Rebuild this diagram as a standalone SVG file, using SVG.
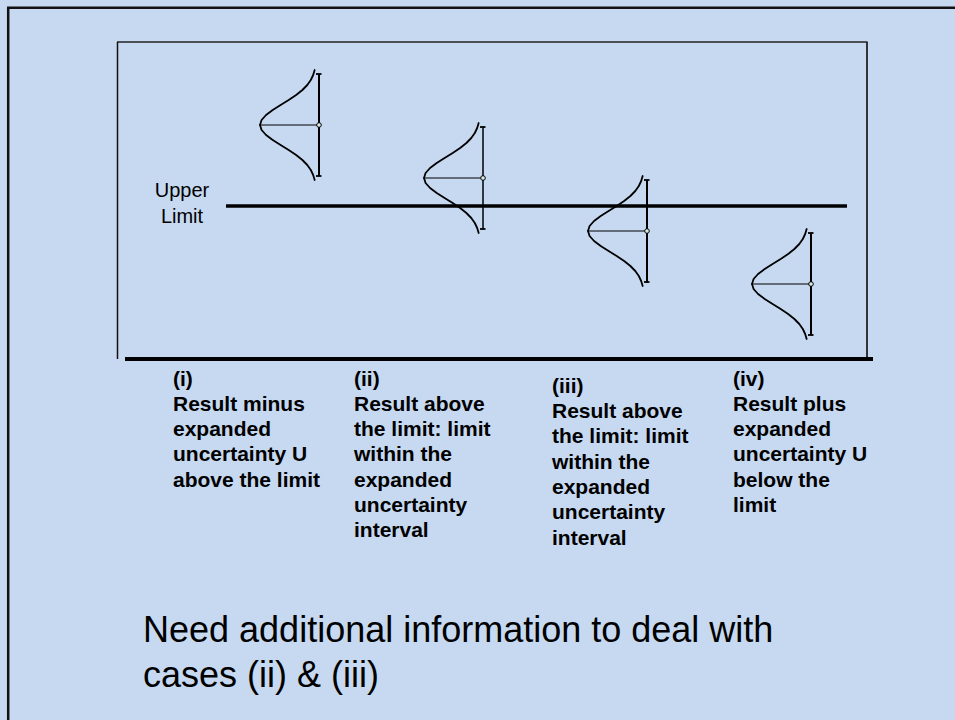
<svg xmlns="http://www.w3.org/2000/svg" width="955" height="720" viewBox="0 0 955 720">
<style>
.lbl{font-family:"Liberation Sans",Arial,sans-serif;font-size:21px;font-weight:bold;fill:#000}
.ul{font-family:"Liberation Sans",Arial,sans-serif;font-size:20px;fill:#000}
.main{font-family:"Liberation Sans",Arial,sans-serif;font-size:36px;fill:#000}
.curve{fill:none;stroke:#000;stroke-width:1.8;stroke-linejoin:round;stroke-linecap:round}
.bar{stroke:#000;stroke-width:2}
.tick{stroke:#000;stroke-width:1.8}
.mid{stroke:#000;stroke-width:1}
.dot{fill:#dcecE4;stroke:#000;stroke-width:1}
</style>
<defs>
<g id="bell">
<polyline class="curve" points="-4.33,-55 -5.82,-50 -8.19,-45 -11.71,-40 -16.59,-35 -22.87,-30 -30.31,-25 -38.4,-20 -46.28,-15 -52.94,-10 -57.42,-5 -59,0 -57.42,5 -52.94,10 -46.28,15 -38.4,20 -30.31,25 -22.87,30 -16.59,35 -11.71,40 -8.19,45 -5.82,50 -4.33,55"/>
<line class="tick" x1="-3" y1="-51" x2="2.5" y2="-51"/>
<line class="tick" x1="-3" y1="51" x2="2.5" y2="51"/>
<line class="mid" x1="-60" y1="0" x2="0" y2="0"/>
</g>
</defs>
<rect x="0" y="0" width="955" height="720" fill="#C6D9F1"/>
<g id="frame">
<line x1="8.2" y1="7.8" x2="8.2" y2="720" stroke="#111" stroke-width="2.5"/>
<line x1="7" y1="7.8" x2="955" y2="7.8" stroke="#111" stroke-width="2.5"/>
</g>
<g id="plot-box">
<line x1="117" y1="42" x2="867.5" y2="42" stroke="#222" stroke-width="1.5"/>
<line x1="117.5" y1="42" x2="117.5" y2="359" stroke="#111" stroke-width="1.5"/>
<line x1="867" y1="42" x2="867" y2="357" stroke="#222" stroke-width="1.8"/>
<line x1="125" y1="359" x2="873" y2="359" stroke="#000" stroke-width="4"/>
</g>
<g id="upper-limit">
<line x1="226" y1="206" x2="847" y2="206" stroke="#000" stroke-width="3.3"/>
<text class="ul" x="182" y="197" text-anchor="middle">Upper</text>
<text class="ul" x="182" y="223" text-anchor="middle">Limit</text>
</g>
<g id="case1-curve" transform="translate(319,125)">
<use href="#bell"/>
<line class="bar" x1="0" y1="-51" x2="0" y2="51"/>
<circle class="dot" cx="0" cy="0" r="2.3"/>
</g>
<g id="case2-curve" transform="translate(483,178)">
<use href="#bell"/>
<line class="bar" x1="0" y1="-51" x2="0" y2="51" style="stroke-width:1.5"/>
<circle class="dot" cx="0" cy="0" r="2.3"/>
</g>
<g id="case3-curve" transform="translate(647,231)">
<use href="#bell"/>
<line class="bar" x1="0" y1="-51" x2="0" y2="52"/>
<circle class="dot" cx="0" cy="0" r="2.3"/>
</g>
<g id="case4-curve" transform="translate(811,284)">
<use href="#bell"/>
<line class="bar" x1="0" y1="-51" x2="0" y2="51"/>
<circle class="dot" cx="0" cy="0" r="2.3"/>
</g>
<g id="case1-label">
<text class="lbl" x="173" y="385.5">(i)</text>
<text class="lbl" x="173" y="410.8">Result minus</text>
<text class="lbl" x="173" y="436.1">expanded</text>
<text class="lbl" x="173" y="461.4">uncertainty U</text>
<text class="lbl" x="173" y="486.7">above the limit</text>
</g>
<g id="case2-label">
<text class="lbl" x="354" y="385.5">(ii)</text>
<text class="lbl" x="354" y="410.8">Result above</text>
<text class="lbl" x="354" y="436.1">the limit: limit</text>
<text class="lbl" x="354" y="461.4">within the</text>
<text class="lbl" x="354" y="486.7">expanded</text>
<text class="lbl" x="354" y="512">uncertainty</text>
<text class="lbl" x="354" y="537.3">interval</text>
</g>
<g id="case3-label">
<text class="lbl" x="552" y="392.8">(iii)</text>
<text class="lbl" x="552" y="418.1">Result above</text>
<text class="lbl" x="552" y="443.4">the limit: limit</text>
<text class="lbl" x="552" y="468.7">within the</text>
<text class="lbl" x="552" y="494">expanded</text>
<text class="lbl" x="552" y="519.3">uncertainty</text>
<text class="lbl" x="552" y="544.6">interval</text>
</g>
<g id="case4-label">
<text class="lbl" x="733" y="385.5">(iv)</text>
<text class="lbl" x="733" y="410.8">Result plus</text>
<text class="lbl" x="733" y="436.1">expanded</text>
<text class="lbl" x="733" y="461.4">uncertainty U</text>
<text class="lbl" x="733" y="486.7">below the</text>
<text class="lbl" x="733" y="512">limit</text>
</g>
<g id="note">
<text class="main" x="143" y="642">Need additional information to deal with</text>
<text class="main" x="143" y="687">cases (ii) &amp; (iii)</text>
</g>
</svg>
